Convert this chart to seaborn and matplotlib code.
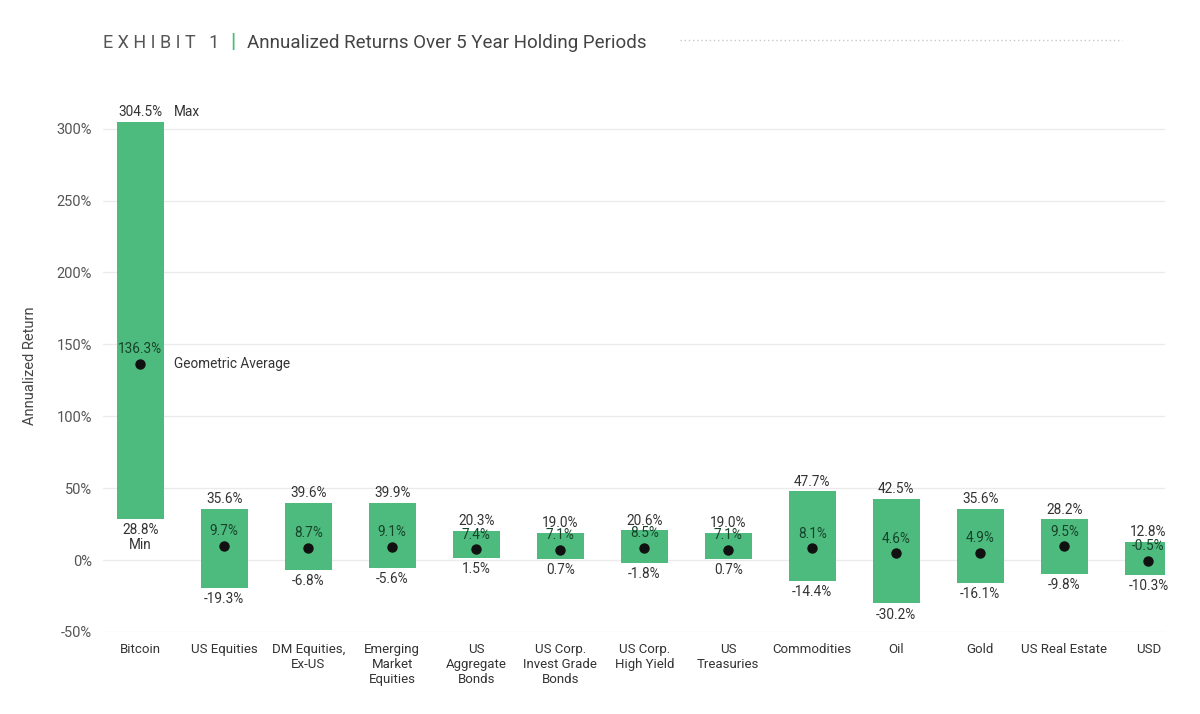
import numpy as np
import pandas as pd
import seaborn as sns
import matplotlib.pyplot as plt
from matplotlib.lines import Line2D

# Data
assets = ["Bitcoin", "US Equities", "DM Equities,\nEx-US", "Emerging\nMarket\nEquities",
          "US\nAggregate\nBonds", "US Corp.\nInvest Grade\nBonds", "US Corp.\nHigh Yield",
          "US\nTreasuries", "Commodities", "Oil", "Gold", "US Real Estate", "USD"]
max_ret = [304.5, 35.6, 39.6, 39.9, 20.3, 19.0, 20.6, 19.0, 47.7, 42.5, 35.6, 28.2, 12.8]
min_ret = [28.8, -19.3, -6.8, -5.6, 1.5, 0.7, -1.8, 0.7, -14.4, -30.2, -16.1, -9.8, -10.3]
geo_avg = [136.3, 9.7, 8.7, 9.1, 7.4, 7.1, 8.5, 7.1, 8.1, 4.6, 4.9, 9.5, -0.5]
y_ticks = [-50, 0, 50, 100, 150, 200, 250, 300]

df = pd.DataFrame({
    "Asset": assets,
    "Max": max_ret,
    "Min": min_ret,
    "Avg": geo_avg,
})
df["Range"] = df["Max"] - df["Min"]

GREEN = "#4dbb7e"
TEXT = "#333333"

sns.set_theme(style="white")
plt.rcParams["font.family"] = ["Roboto", "DejaVu Sans"]

fig, ax = plt.subplots(figsize=(12, 7.14), dpi=100)
fig.subplots_adjust(left=0.086, right=0.971, bottom=0.115, top=0.86)

# Range bars (min -> max)
sns.barplot(data=df, x="Asset", y="Range", bottom=df["Min"].values,
            color=GREEN, width=0.56, saturation=1, linewidth=0, ax=ax, zorder=2)

# Geometric average dots
sns.stripplot(data=df, x="Asset", y="Avg", jitter=False, color="#111111",
              size=7.5, linewidth=0, ax=ax, zorder=4)

# Labels
for i, row in df.iterrows():
    ax.annotate(f"{row['Max']:.1f}%", (i, row["Max"]), xytext=(0, 2),
                textcoords="offset points", ha="center", va="bottom",
                fontsize=9.8, color=TEXT, zorder=5)
    ax.annotate(f"{row['Min']:.1f}%", (i, row["Min"]), xytext=(0, -3),
                textcoords="offset points", ha="center", va="top",
                fontsize=9.8, color=TEXT, zorder=5)
    ax.annotate(f"{row['Avg']:.1f}%", (i, row["Avg"]), xytext=(0, 5.5),
                textcoords="offset points", ha="center", va="bottom",
                fontsize=9.8, color="#17432b", zorder=5)

# Bitcoin side notes
ax.annotate("Max", (0, df["Max"][0]), xytext=(24, 2), textcoords="offset points",
            ha="left", va="bottom", fontsize=9.8, color=TEXT)
ax.annotate("Geometric Average", (0, df["Avg"][0]), xytext=(24, 0),
            textcoords="offset points", ha="left", va="center", fontsize=9.8, color=TEXT)
ax.annotate("Min", (0, df["Min"][0]), xytext=(0, -14), textcoords="offset points",
            ha="center", va="top", fontsize=9.8, color=TEXT)

# Axes styling
ax.set_ylim(-50, 320)
ax.set_xlim(-0.44, 12.2)
ax.set_yticks(y_ticks)
ax.set_yticklabels([f"{t}%" for t in y_ticks], fontsize=10.5, color="#555555")
ax.yaxis.grid(True, color="#ebebeb", linewidth=1)
ax.set_axisbelow(True)
ax.tick_params(axis="x", labelsize=9.5, labelcolor=TEXT, length=0, pad=8)
ax.tick_params(axis="y", length=0, pad=8)
ax.set_xlabel("")
ax.set_ylabel("Annualized Return", fontsize=10.5, color="#444444", labelpad=14)
sns.despine(ax=ax, left=True, bottom=True)

# Title block
fig.text(0.086, 0.94, "E X H I B I T   1", fontsize=13, color="#555555",
         va="center", ha="left")
fig.text(0.192, 0.94, "|", fontsize=15, color=GREEN, fontweight="bold",
         va="center", ha="left")
fig.text(0.206, 0.94, "Annualized Returns Over 5 Year Holding Periods", fontsize=13.5,
         color="#444444", va="center", ha="left")
fig.add_artist(Line2D([0.567, 0.935], [0.944, 0.944], transform=fig.transFigure,
                      color="#c8c8c8", linestyle=(0, (1, 2)), linewidth=1))

plt.savefig("out.png", dpi=100, facecolor="white")
